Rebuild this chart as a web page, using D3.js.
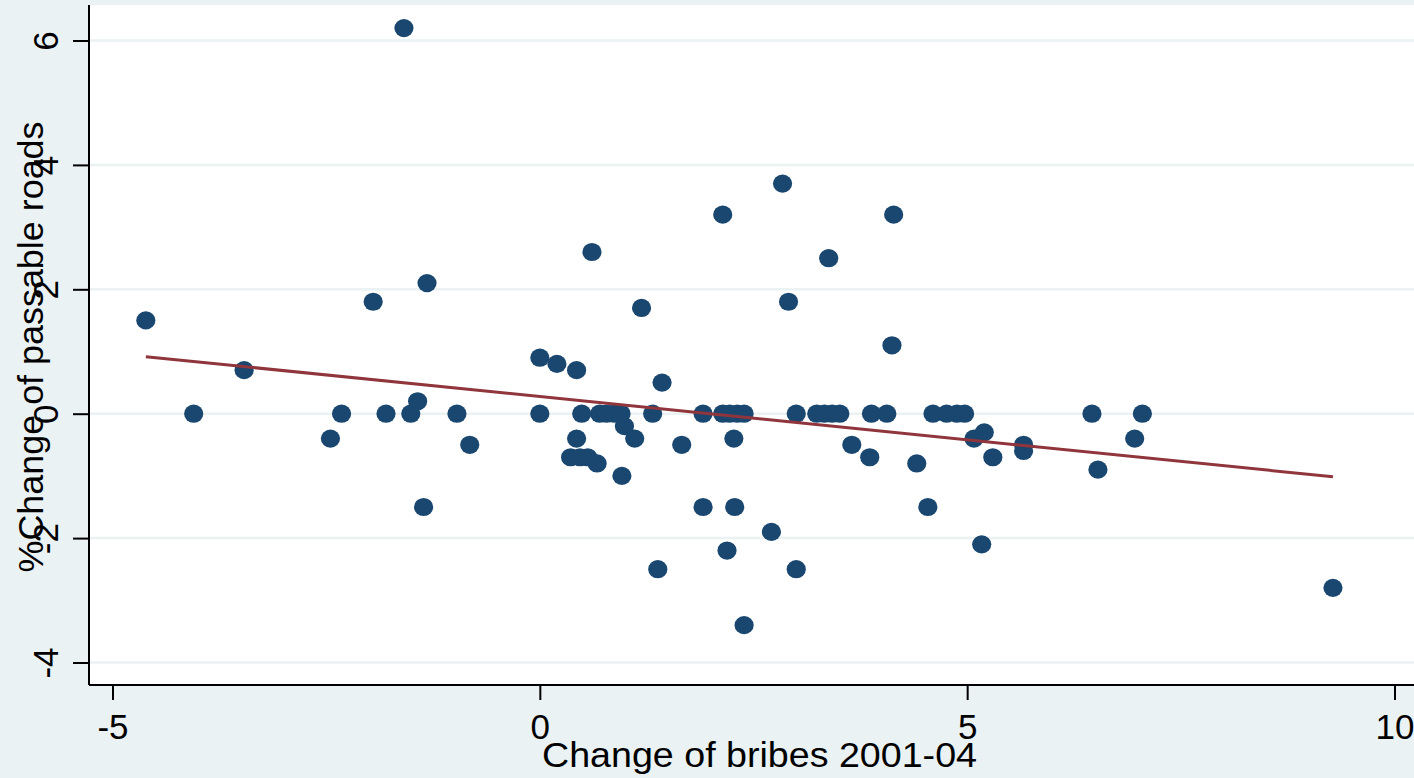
<!DOCTYPE html>
<html>
<head>
<meta charset="utf-8">
<script src="https://cdn.jsdelivr.net/npm/d3@7"></script>
<style>
html,body{margin:0;padding:0;background:#eaf2f3;}
svg{display:block;}
text{font-family:"Liberation Sans",Arial,sans-serif;fill:#000;}
</style>
</head>
<body>
<svg id="chart" width="1414" height="778"></svg>
<script>
// change of bribes 2001-04 (x)
const bribes = [
  -4.61,-4.05,-3.46,-2.45,-2.32,-1.95,-1.80,-1.59,-1.51,-1.43,-1.36,-1.32,-0.97,-0.82,
  0,0,0.20,0.43,0.43,0.49,0.36,0.47,0.56,0.67,0.61,0.70,0.78,0.87,0.95,0.99,1.11,0.96,
  1.32,1.43,1.66,1.19,1.38,1.91,1.91,2.14,2.22,2.31,2.39,2.27,2.28,2.19,2.39,2.14,2.71,
  2.84,2.91,3.00,3.00,3.24,3.33,3.42,3.51,3.38,3.65,3.86,3.88,4.06,4.12,4.14,4.41,4.54,
  4.60,4.76,4.88,4.97,5.08,5.20,5.30,5.17,5.66,5.66,6.46,6.53,6.96,7.05,9.28
];
// % change of passable roads (y)
const roads = [
  1.5,0,0.7,-0.4,0,1.8,0,6.2,0,0.2,-1.5,2.1,0,-0.5,
  0.9,0,0.8,0.7,-0.4,0,-0.7,-0.7,-0.7,-0.8,2.6,0,0,0,0,-0.2,-0.4,-1.0,
  0,0.5,-0.5,1.7,-2.5,0,-1.5,0,0,0,0,-0.4,-1.5,-2.2,-3.4,3.2,-1.9,
  3.7,1.8,0,-2.5,0,0,0,0,2.5,-0.5,-0.7,0,0,1.1,3.2,-0.8,-1.5,
  0,0,0,0,-0.4,-0.3,-0.7,-2.1,-0.5,-0.6,0,-0.9,-0.4,0,-2.8
];
// linear fit
const fitIntercept = 0.276;
const fitSlope = -0.139;

const xTicks = [-5, 0, 5, 10];
const yTicks = [-4, -2, 0, 2, 4, 6];
const xTitle = "Change of bribes 2001-04";
const yTitle = "%Change of passable roads";

const W = 1414, H = 778;
const plot = {left: 89, right: 1430, top: 5, bottom: 685};

const x = d3.scaleLinear().domain([-5, 10]).range([112.5, 1394.5]);
const y = d3.scaleLinear().domain([-4, 6]).range([662.5, 40.5]);

const fmt = d => String(d);

const svg = d3.select("#chart");
svg.append("rect").attr("width", W).attr("height", H).attr("fill", "#eaf2f3");
svg.append("rect").attr("x", plot.left).attr("y", plot.top)
  .attr("width", plot.right - plot.left).attr("height", plot.bottom - plot.top)
  .attr("fill", "#ffffff");

// gridlines
svg.append("g").selectAll("line").data(yTicks).join("line")
  .attr("x1", plot.left).attr("x2", plot.right)
  .attr("y1", d => y(d)).attr("y2", d => y(d))
  .attr("stroke", "#eaf2f3").attr("stroke-width", 2.5);

// points
const pts = bribes.map((b, i) => ({x: b, y: roads[i]}));
svg.append("g").selectAll("ellipse").data(pts).join("ellipse")
  .attr("cx", d => x(d.x)).attr("cy", d => y(d.y))
  .attr("rx", 9.6).attr("ry", 9.1)
  .attr("fill", "#1a476f");

// fit line
const xmin = d3.min(bribes), xmax = d3.max(bribes);
svg.append("line")
  .attr("x1", x(xmin)).attr("y1", y(fitIntercept + fitSlope * xmin))
  .attr("x2", x(xmax)).attr("y2", y(fitIntercept + fitSlope * xmax))
  .attr("stroke", "#90353b").attr("stroke-width", 3);

// axes
const xAxis = d3.axisBottom(x).tickValues(xTicks).tickFormat(fmt).tickSize(15).tickPadding(12).tickSizeOuter(0);
const gx = svg.append("g").attr("transform", `translate(0,${plot.bottom})`).call(xAxis);
gx.select(".domain").remove();
gx.append("line").attr("x1", plot.left).attr("x2", plot.right).attr("y1", 0).attr("y2", 0)
  .attr("stroke", "#000").attr("stroke-width", 2);
gx.selectAll(".tick line").attr("stroke", "#000").attr("stroke-width", 2);
gx.selectAll(".tick text").attr("font-size", 35).attr("font-family", "Liberation Sans, Arial, sans-serif")
  .attr("fill", "#000").attr("dy", null).attr("y", 54);

const yAxis = d3.axisLeft(y).tickValues(yTicks).tickFormat(fmt).tickSize(16).tickSizeOuter(0);
const gy = svg.append("g").attr("transform", `translate(${plot.left},0)`).call(yAxis);
gy.select(".domain").remove();
gy.append("line").attr("x1", 0).attr("x2", 0).attr("y1", plot.top).attr("y2", plot.bottom)
  .attr("stroke", "#000").attr("stroke-width", 2);
gy.selectAll(".tick line").attr("stroke", "#000").attr("stroke-width", 2);
gy.selectAll(".tick text")
  .attr("font-size", 35).attr("font-family", "Liberation Sans, Arial, sans-serif").attr("fill", "#000")
  .attr("x", null).attr("dy", null).attr("text-anchor", "middle")
  .attr("transform", "translate(-31,0) rotate(-90)");

// titles
svg.append("text").attr("x", 759.5).attr("y", 767)
  .attr("text-anchor", "middle").attr("font-size", 35)
  .attr("textLength", 435).attr("lengthAdjust", "spacingAndGlyphs").text(xTitle);
svg.append("text")
  .attr("transform", `translate(43,${(plot.top + plot.bottom) / 2 + 2}) rotate(-90)`)
  .attr("text-anchor", "middle").attr("font-size", 35)
  .attr("textLength", 451).attr("lengthAdjust", "spacingAndGlyphs").text(yTitle);
</script>
</body>
</html>
